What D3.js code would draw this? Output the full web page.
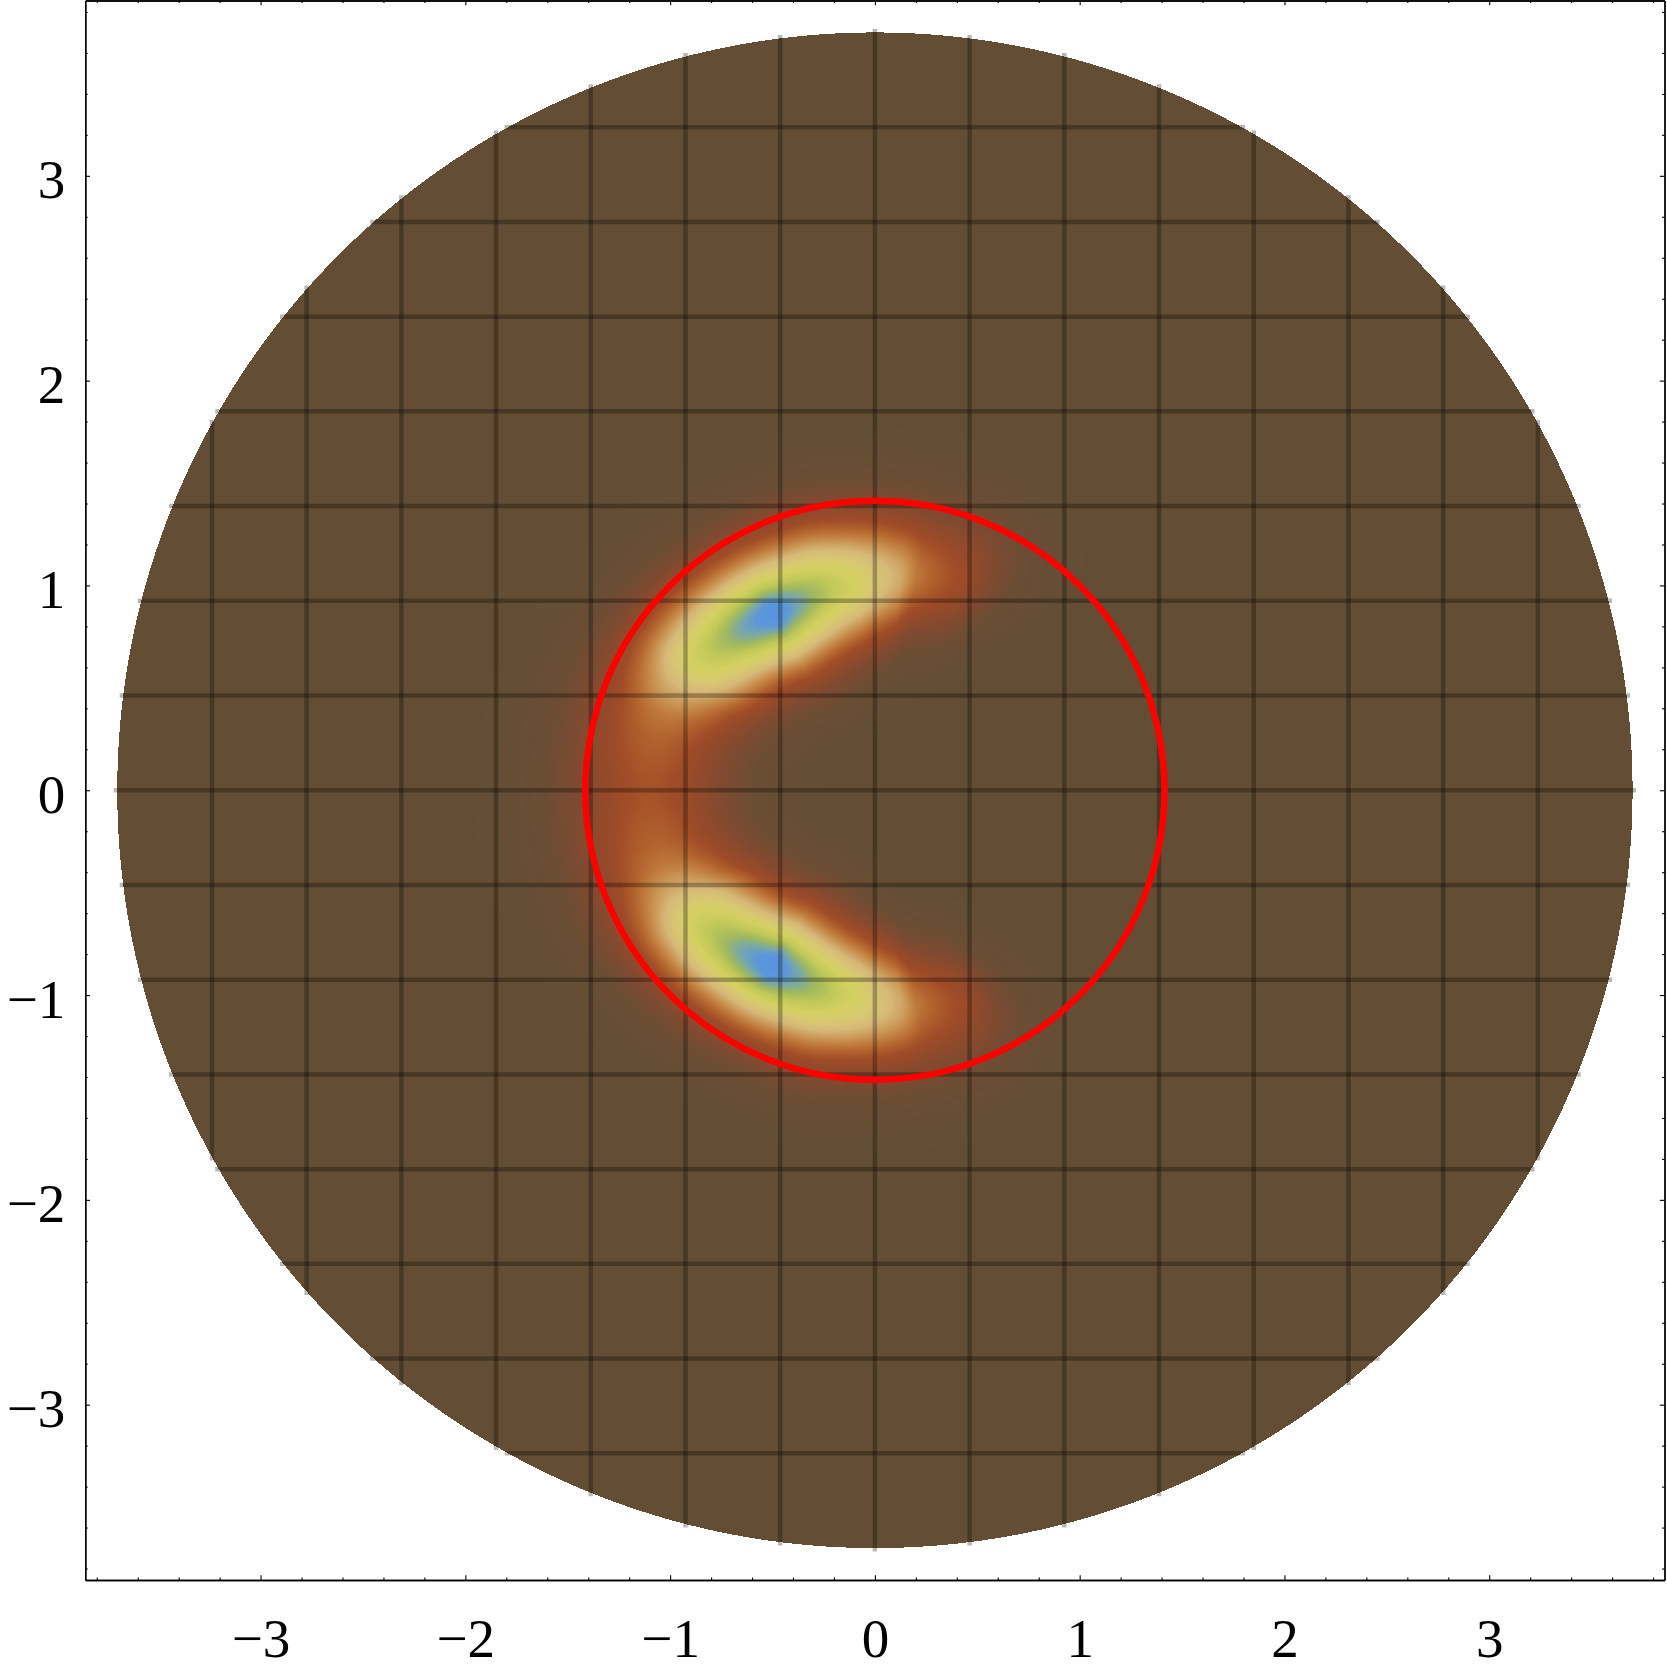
<!DOCTYPE html>
<html>
<head>
<meta charset="utf-8">
<script src="https://cdn.jsdelivr.net/npm/d3@7"></script>
<style>
  html, body { margin: 0; padding: 0; background: #fff; }
  svg { display: block; }
</style>
</head>
<body>
<svg id="chart" width="1667" height="1675"></svg>
<script>
// ridge of the density, read along angle (deg from +x axis), mirrored in y
const ringAngle       = [0, 45, 55, 60, 66, 73, 79, 83, 95, 105, 112, 120, 130, 140, 146, 153, 160, 166, 176, 180];
const ringPeak        = [0, 0, 0.06, 0.15, 0.29, 0.38, 0.46, 0.58, 0.77, 0.88, 0.94, 1.00, 0.94, 0.85, 0.77, 0.60, 0.47, 0.41, 0.36, 0.35];
const ringRadius      = [1.15, 1.15, 1.14, 1.12, 1.10, 1.08, 1.06, 1.04, 1.01, 1.00, 0.99, 0.99, 1.01, 1.04, 1.06, 1.08, 1.09, 1.10, 1.10, 1.10];
const ringInnerWidth  = [0.21, 0.21, 0.21, 0.21, 0.21, 0.21, 0.21, 0.22, 0.23, 0.24, 0.24, 0.24, 0.24, 0.25, 0.26, 0.27, 0.28, 0.28, 0.29, 0.29];
const ringOuterWidth  = [0.23, 0.23, 0.23, 0.23, 0.23, 0.23, 0.23, 0.23, 0.24, 0.25, 0.25, 0.25, 0.25, 0.25, 0.25, 0.26, 0.27, 0.28, 0.29, 0.29];

// colour function (value -> colour)
const colorStops  = [0, 0.08, 0.17, 0.27, 0.33, 0.40, 0.47, 0.55, 0.62, 0.70, 0.78, 0.85, 0.90, 0.94, 0.97, 1];
const colorValues = ["#634e35", "#6c4d34", "#804a30", "#954a2a", "#a04c28", "#b0602c", "#c07a3c", "#cc9c5c",
                     "#d6b878", "#d8c872", "#d4d060", "#c0c858", "#a0b860", "#78a8a8", "#5c98d8", "#5894e0"];

const diskRadius = 3.7;
const circleRadius = Math.SQRT2;
const meshCount = 15;
const majorTicks = [-3, -2, -1, 0, 1, 2, 3];
const minorTicks = [-3.8, -3.6, -3.4, -3.2, -2.8, -2.6, -2.4, -2.2, -1.8, -1.6, -1.4, -1.2, -0.8, -0.6, -0.4, -0.2,
                    0.2, 0.4, 0.6, 0.8, 1.2, 1.4, 1.6, 1.8, 2.2, 2.4, 2.6, 2.8, 3.2, 3.4, 3.6, 3.8];

var svg = d3.select("#chart");
var plotLeft = 85.3, plotRight = 1664.5, plotTop = 0.5, plotBottom = 1580;
var lim = 3.856;

var x = d3.scaleLinear().domain([-lim, lim]).range([plotLeft, plotRight]);
var y = d3.scaleLinear().domain([-lim, lim]).range([plotBottom, plotTop]);

var peakAt = d3.scaleLinear().domain(ringAngle).range(ringPeak);
var radiusAt = d3.scaleLinear().domain(ringAngle).range(ringRadius);
var innerAt = d3.scaleLinear().domain(ringAngle).range(ringInnerWidth);
var outerAt = d3.scaleLinear().domain(ringAngle).range(ringOuterWidth);
var colorScale = d3.scaleLinear().domain(colorStops).range(colorValues).interpolate(d3.interpolateRgb).clamp(true);

// lookup table for colours
var lut = d3.range(1024).map(i => d3.rgb(colorScale(i / 1023)));

// density image on a canvas
var x0 = Math.floor(x(-diskRadius)) - 1, x1 = Math.ceil(x(diskRadius)) + 1;
var y0 = Math.floor(y(diskRadius)) - 1, y1 = Math.ceil(y(-diskRadius)) + 1;
var w = x1 - x0, h = y1 - y0;
var canvas = document.createElement("canvas");
canvas.width = w; canvas.height = h;
var ctx = canvas.getContext("2d");
var img = ctx.createImageData(w, h);
for (var j = 0; j < h; j++) {
    var yv = y.invert(y0 + j + 0.5);
    for (var i = 0; i < w; i++) {
        var xv = x.invert(x0 + i + 0.5);
        var r = Math.hypot(xv, yv);
        if (r > diskRadius) continue;
        var v = 0;
        if (r < 3) {
            var phi = Math.abs(Math.atan2(yv, xv)) * 180 / Math.PI;
            var d = r - radiusAt(phi);
            var s = d < 0 ? innerAt(phi) : outerAt(phi);
            v = peakAt(phi) * Math.exp(-d * d / (2 * s * s));
        }
        var c = lut[Math.max(0, Math.min(1023, Math.round(v * 1023)))];
        var k = (j * w + i) * 4;
        img.data[k] = c.r; img.data[k + 1] = c.g; img.data[k + 2] = c.b; img.data[k + 3] = 255;
    }
}
ctx.putImageData(img, 0, 0);

svg.append("image")
    .attr("x", x0).attr("y", y0)
    .attr("width", w).attr("height", h)
    .attr("href", canvas.toDataURL());

// mesh lines
var meshPos = d3.range(1, meshCount + 1).map(k => -diskRadius + k * 2 * diskRadius / (meshCount + 1));
var ext = 3.5;
var mesh = svg.append("g")
    .style("stroke", "#000")
    .style("stroke-opacity", 0.28)
    .style("stroke-width", 4.5);

mesh.selectAll("line.v")
    .data(meshPos)
    .enter()
    .append("line")
        .attr("class", "v")
        .attr("x1", d => x(d)).attr("x2", d => x(d))
        .attr("y1", d => y(Math.sqrt(diskRadius * diskRadius - d * d)) - ext)
        .attr("y2", d => y(-Math.sqrt(diskRadius * diskRadius - d * d)) + ext);

mesh.selectAll("line.h")
    .data(meshPos)
    .enter()
    .append("line")
        .attr("class", "h")
        .attr("y1", d => y(d)).attr("y2", d => y(d))
        .attr("x1", d => x(-Math.sqrt(diskRadius * diskRadius - d * d)) - ext)
        .attr("x2", d => x(Math.sqrt(diskRadius * diskRadius - d * d)) + ext);

// red circle
svg.append("circle")
    .attr("cx", x(0)).attr("cy", y(0))
    .attr("r", x(circleRadius) - x(0))
    .style("fill", "none")
    .style("stroke", "#ff0000")
    .style("stroke-width", 6.5);

// frame with ticks on all four sides
var major = 4.7, minor = 2.4;
function frameAxis(axisFn, scale, tx, ty, labels) {
    var gMinor = svg.append("g").attr("transform", "translate(" + tx + "," + ty + ")")
        .call(axisFn(scale).tickValues(minorTicks).tickSizeInner(-minor).tickSizeOuter(0).tickFormat(""));
    var gMajor = svg.append("g").attr("transform", "translate(" + tx + "," + ty + ")")
        .call(axisFn(scale).tickValues(majorTicks).tickSizeInner(-major).tickSizeOuter(0)
            .tickFormat(labels ? d3.format("d") : ""));
    [gMinor, gMajor].forEach(g => {
        g.select(".domain").style("stroke", "#000").style("stroke-width", 1.3);
        g.selectAll(".tick line").style("stroke", "#000").style("stroke-width", 1.1);
    });
    return gMajor;
}

var gBottom = frameAxis(d3.axisBottom, x, 0, plotBottom, true);
gBottom.selectAll("text")
    .attr("dy", null)
    .attr("y", 77)
    .style("font-family", "'Liberation Serif', 'Times New Roman', serif")
    .style("font-size", "55px")
    .style("fill", "#000");

var gLeft = frameAxis(d3.axisLeft, y, plotLeft, 0, true);
gLeft.selectAll("text")
    .attr("dy", null)
    .attr("x", -20)
    .attr("y", 22)
    .style("font-family", "'Liberation Serif', 'Times New Roman', serif")
    .style("font-size", "55px")
    .style("fill", "#000");

frameAxis(d3.axisTop, x, 0, plotTop, false);
frameAxis(d3.axisRight, y, plotRight, 0, false);
</script>
</body>
</html>
